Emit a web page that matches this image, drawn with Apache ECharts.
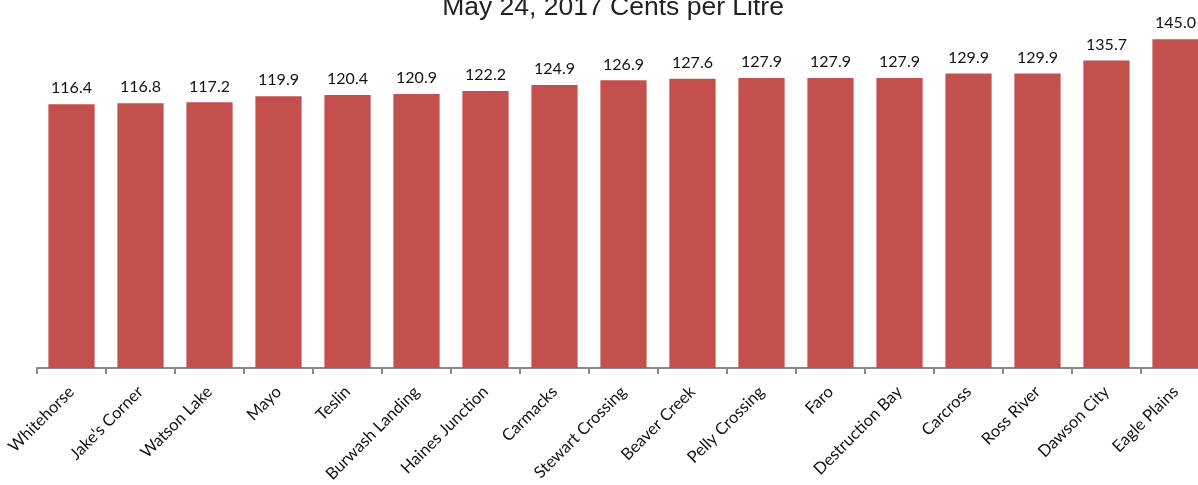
<!DOCTYPE html>
<html>
<head>
<meta charset="utf-8">
<script src="https://cdn.jsdelivr.net/npm/echarts@6/dist/echarts.min.js"></script>
<style>
html,body{margin:0;padding:0;background:#fff;overflow:hidden;width:1198px;height:485px;}
#chart{width:1220px;height:485px;}
</style>
</head>
<body>
<div id="chart"></div>
<script>
var titleText = "May 24, 2017 Cents per Litre";
var categories = ["Whitehorse","Jake's Corner","Watson Lake","Mayo","Teslin","Burwash Landing","Haines Junction","Carmacks","Stewart Crossing","Beaver Creek","Pelly Crossing","Faro","Destruction Bay","Carcross","Ross River","Dawson City","Eagle Plains"];
var prices = [116.4,116.8,117.2,119.9,120.4,120.9,122.2,124.9,126.9,127.6,127.9,127.9,127.9,129.9,129.9,135.7,145.0];

var chart = echarts.init(document.getElementById('chart'));
chart.setOption({
  animation: false,
  backgroundColor: '#ffffff',
  title: {
    text: titleText,
    left: 608,
    textAlign: 'center',
    top: -11,
    textStyle: {fontFamily: 'Liberation Sans', fontSize: 26.5, fontWeight: 'normal', color: '#222222'}
  },
  grid: {left: 37, width: 1173, top: 28, height: 344, containLabel: false},
  xAxis: {
    type: 'category',
    data: categories,
    axisLine: {show: true, lineStyle: {color: '#888888', width: 2}},
    axisTick: {show: true, length: 6, lineStyle: {color: '#888888', width: 2}},
    axisLabel: {rotate: 45, margin: 21, fontFamily: 'Lato', fontSize: 16.5, color: '#111111', interval: 0}
  },
  yAxis: {
    type: 'value',
    min: 0,
    max: 150,
    show: false,
    splitLine: {show: false}
  },
  series: [{
    type: 'bar',
    data: prices,
    barWidth: '67%',
    itemStyle: {color: '#C4504E'},
    label: {
      show: true,
      position: 'top',
      distance: 8,
      fontFamily: 'Lato',
      fontSize: 16,
      color: '#111111',
      formatter: function(p){ return p.value.toFixed(1); }
    }
  }]
});
</script>
</body>
</html>
